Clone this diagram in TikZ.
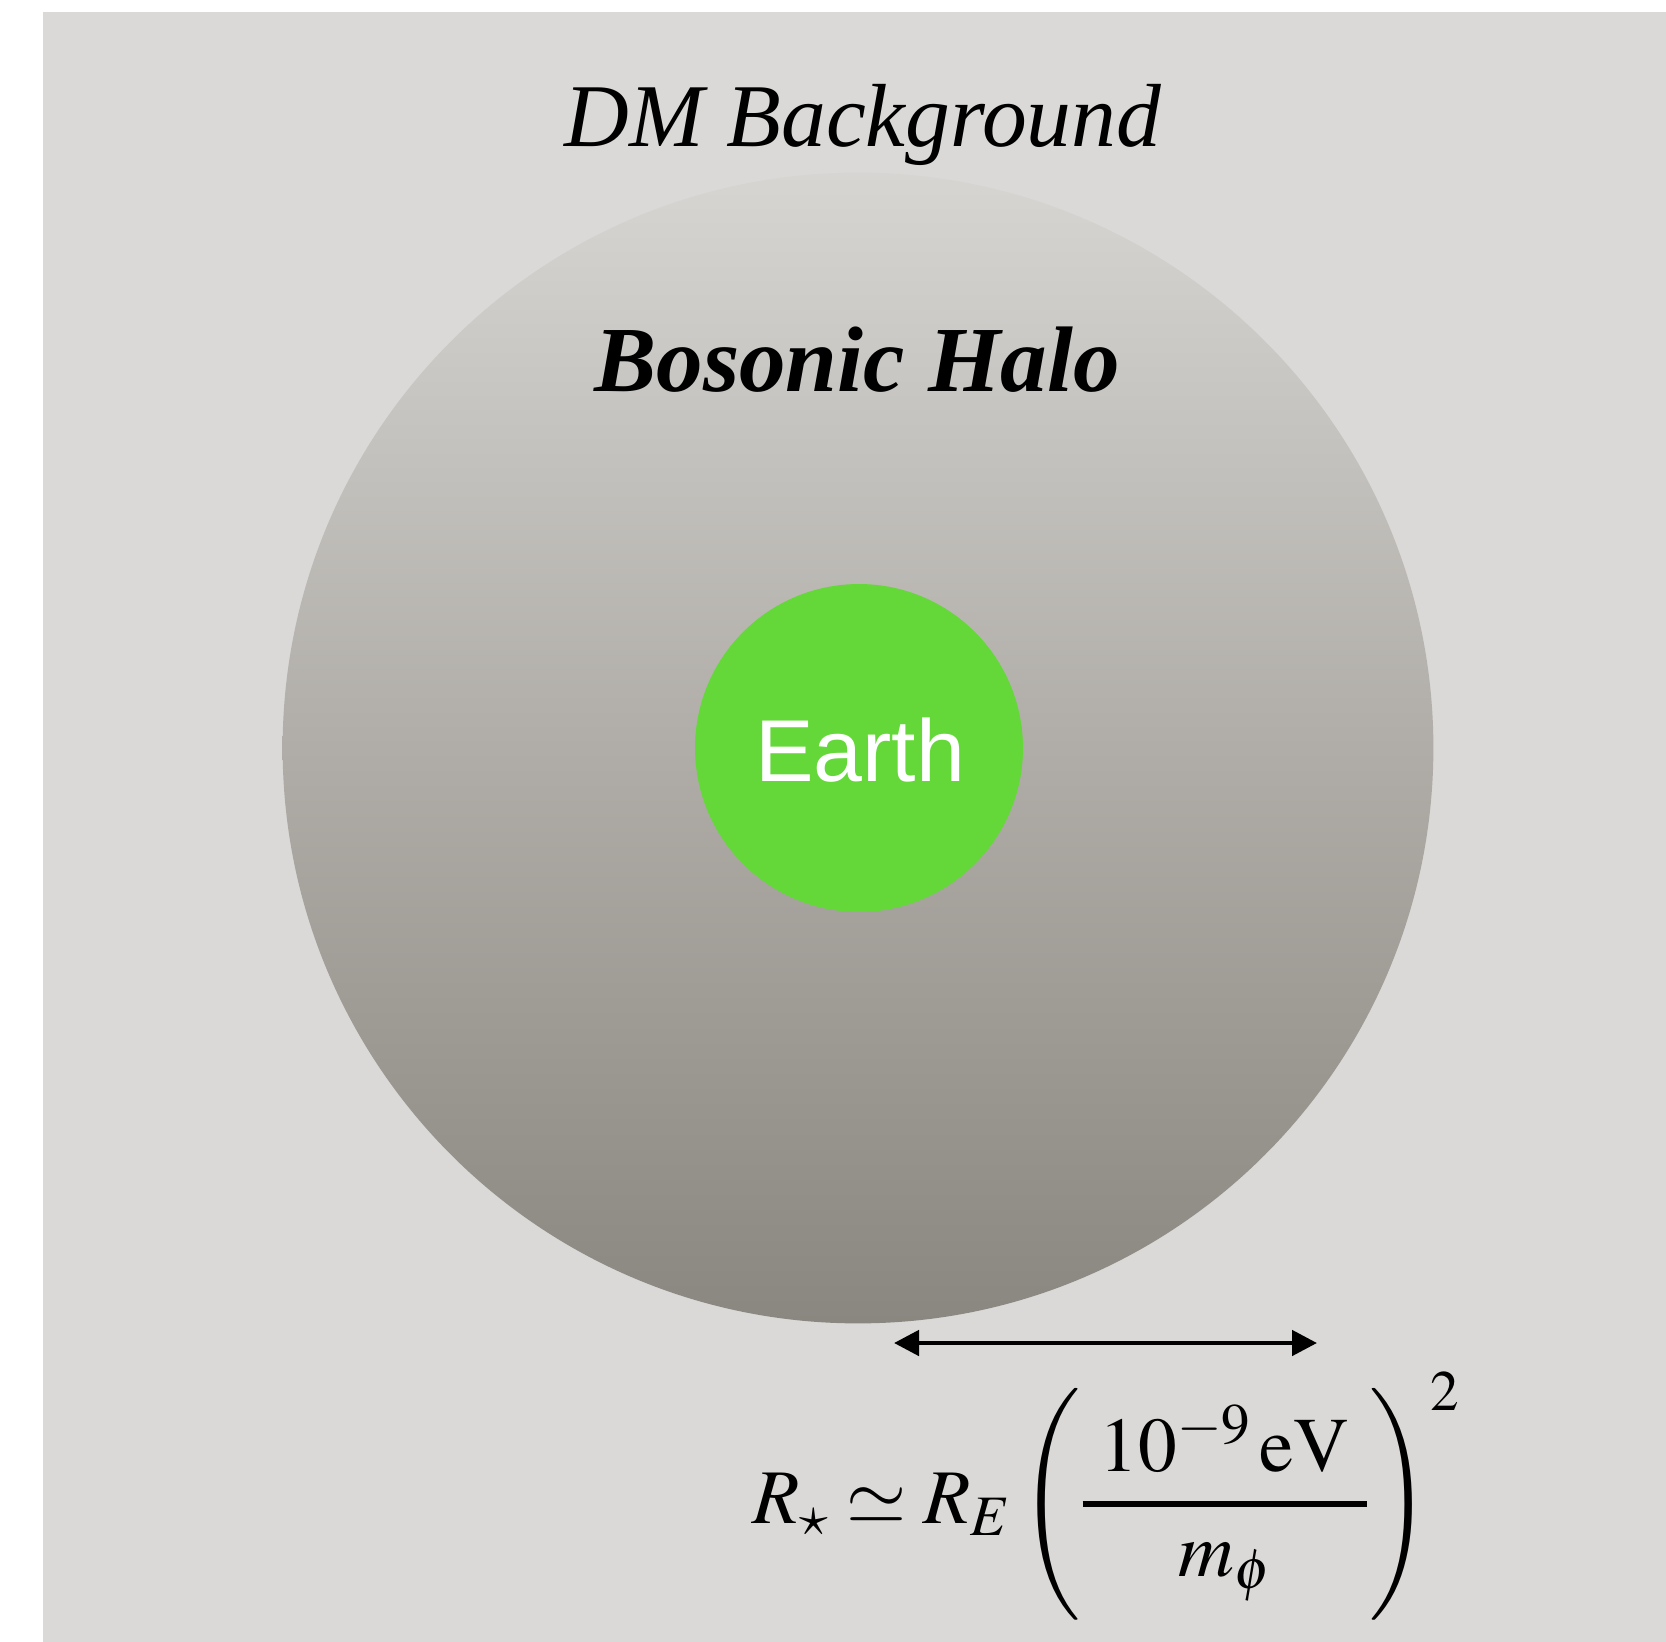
\documentclass[tikz,border=0pt]{standalone}
\usepackage{amsmath}
\usepackage{mathptmx}
\usepackage{fontspec}
\setmainfont{Liberation Serif}
\newfontfamily\earthfont{Liberation Sans}
\usepackage{xcolor}
\usepackage{tikz}
\usetikzlibrary{arrows.meta}
\definecolor{cbg}{HTML}{DAD9D7}
\definecolor{chalotop}{HTML}{D6D5D2}
\definecolor{chalomid}{HTML}{B0ADA8}
\definecolor{chalobot}{HTML}{8A8780}
\definecolor{cearth}{HTML}{63D838}
\definecolor{cink}{HTML}{000000}
\tikzset{
  halo/.style={circle,minimum size=23.02cm,inner sep=0pt,
               top color=chalotop,bottom color=chalobot,middle color=chalomid},
  earth/.style={circle,fill=cearth,minimum size=6.56cm,inner sep=0pt},
  ttl/.style={anchor=base,inner sep=0pt,text=cink},
  span/.style={{Triangle[length=0.5cm,width=0.5cm]}-{Triangle[length=0.5cm,width=0.5cm]},line width=2.7pt,cink},
}

\begin{document}
\begin{tikzpicture}[x=0.02cm,y=-0.02cm]
\useasboundingbox (0,0) rectangle (1666,1642);
\fill[cbg] (43,12) rectangle (1666,1642);

\node[halo] (halo) at (858,748) {};
\node[earth] (earth) at (859,748) {};

\node[ttl,font=\fontsize{51}{60}\selectfont\itshape] (dm) at (863,147) {DM Background};
\node[ttl,font=\fontsize{53}{60}\selectfont\bfseries\itshape] (bh) at (857,391) {Bosonic Halo};
\node[ttl,text=white,font=\fontsize{50}{60}\selectfont\earthfont] (et) at (860,781) {Earth};

\coordinate (r1) at (894,1343);
\coordinate (r2) at (1317,1343);
\draw[span] (r1) -- (r2);

\node[inner sep=0pt,font=\fontsize{44}{52}\selectfont] (rs) at (1106,1496)
  {$\displaystyle R_\star \simeq R_E\left(\genfrac{}{}{3pt}{0}{\;10^{-9}\,\mathrm{eV}\;}{m_\phi}\right)^{2}$};

\end{tikzpicture}
\end{document}
